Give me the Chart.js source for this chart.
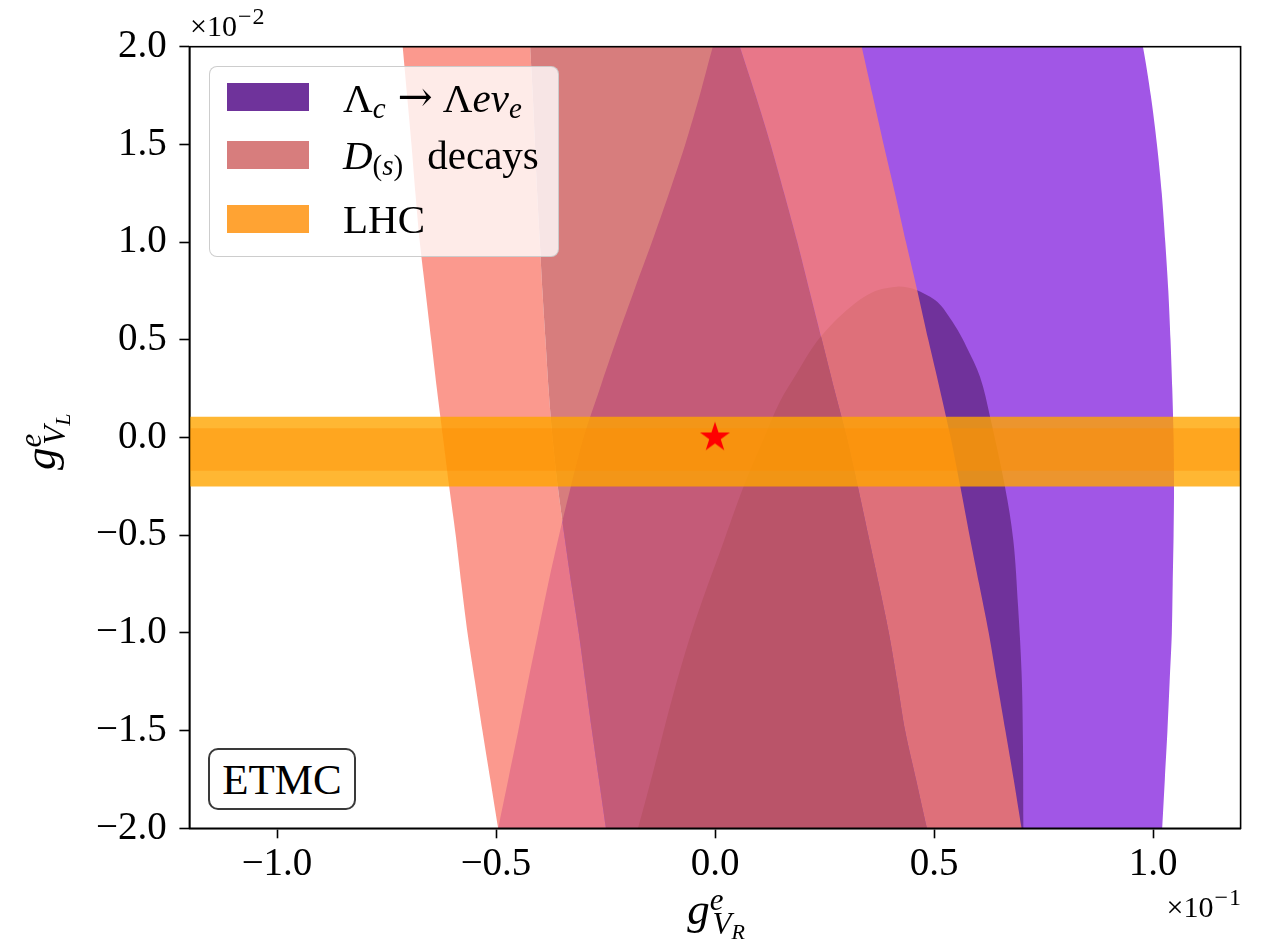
<!DOCTYPE html>
<html>
<head>
<meta charset="utf-8">
<script src="https://cdn.jsdelivr.net/npm/chart.js@4.4.1/dist/chart.umd.min.js"></script>
<style>
html,body{margin:0;padding:0;background:#fff;}
#wrap{position:relative;width:1261px;height:947px;overflow:hidden;font-family:"Liberation Serif","DejaVu Serif",serif;color:#000;}
#c{position:absolute;left:0;top:0;}
.ov{position:absolute;white-space:nowrap;line-height:1;}
.lab{font-size:45px;}
.lab .sp{font-size:31px;position:relative;top:-14px;}
.lab .sb{font-size:31px;position:relative;top:10px;margin-left:-11px;}
.lab .sb2{font-size:22px;position:relative;top:5px;}
.off{font-size:30px;}
.off .sp{font-size:24px;position:relative;top:-12px;margin-left:1px;letter-spacing:1px;}
#legend{position:absolute;left:209px;top:66px;width:350px;height:191px;box-sizing:border-box;border:1.5px solid rgba(200,200,200,0.9);border-radius:8px;background:rgba(255,255,255,0.8);}
.patch{position:absolute;left:227px;width:82px;height:28px;}
.lt{font-size:41px;left:343px;}
.lt .s{font-size:29px;position:relative;top:6px;}
.lt .arr{font-family:"DejaVu Serif",serif;font-size:42px;margin:0 10px 0 12px;position:relative;top:-1px;}
#etmc{position:absolute;left:208px;top:748px;width:148px;height:62px;box-sizing:border-box;border:2.5px solid #3a3a3a;border-radius:10px;background:#fff;display:flex;align-items:center;justify-content:center;font-size:43px;line-height:1;}
</style>
</head>
<body>
<div id="wrap">
<canvas id="c" width="1261" height="947"></canvas>
<div class="ov off" style="left:190px;top:11px;">×10<span class="sp">−2</span></div>
<div class="ov off" style="left:1242px;top:892px;transform:translateX(-100%);">×10<span class="sp">−1</span></div>
<div class="ov lab" style="left:716px;top:887px;transform:translateX(-50%);"><i>g</i><span class="sp"><i>e</i></span><span class="sb"><i>V</i><span class="sb2"><i>R</i></span></span></div>
<div class="ov lab" style="left:0;top:0;transform-origin:0 0;transform:translate(18px,470px) rotate(-90deg);"><i>g</i><span class="sp"><i>e</i></span><span class="sb"><i>V</i><span class="sb2"><i>L</i></span></span></div>
<div id="legend"></div>
<div class="patch" style="top:83px;background:rgb(111,51,155);"></div>
<div class="patch" style="top:141px;background:rgb(215,125,125);"></div>
<div class="patch" style="top:205px;background:rgb(255,163,51);"></div>
<div class="ov lt" style="top:77px;">Λ<span class="s"><i>c</i></span><span class="arr">→</span>Λ<i>eν</i><span class="s"><i>e</i></span></div>
<div class="ov lt" style="top:135px;"><i>D</i><span class="s">(<i>s</i>)</span><span style="margin-left:24px;">decays</span></div>
<div class="ov lt" style="top:199px;">LHC</div>
<div id="etmc">ETMC</div>
</div>
<script>
// ---- values (axis units: x in 1e-1, y in 1e-2) ----
const X_TICKS = [-1.0, -0.5, 0.0, 0.5, 1.0];
const Y_TICKS = [-2.0, -1.5, -1.0, -0.5, 0.0, 0.5, 1.0, 1.5, 2.0];
const X_RANGE = [-1.2, 1.2];
const Y_RANGE = [-2.0, 2.0];

// common y levels for the band edges
const Y_LEVELS = [2.1, 2.0, 1.75, 1.5, 1.25, 1.0, 0.75, 0.5, 0.25, 0.0, -0.25, -0.5, -0.75, -1.0, -1.25, -1.5, -1.75, -2.0, -2.1];
// D(s) band edges (x at each y level)
const EDGE_A  = [-0.717, -0.713, -0.703, -0.693, -0.684, -0.674, -0.661, -0.648, -0.635, -0.621, -0.607, -0.592, -0.579, -0.565, -0.548, -0.531, -0.513, -0.495, -0.487];
const EDGE_B2 = [-0.424, -0.422, -0.416, -0.411, -0.406, -0.400, -0.394, -0.387, -0.380, -0.371, -0.359, -0.344, -0.328, -0.311, -0.296, -0.281, -0.265, -0.249, -0.243];
const EDGE_LP = [0.043, 0.057, 0.093, 0.127, 0.158, 0.188, 0.216, 0.244, 0.272, 0.301, 0.326, 0.350, 0.374, 0.397, 0.416, 0.434, 0.459, 0.484, 0.496];
const EDGE_RP = [0.325, 0.335, 0.360, 0.385, 0.411, 0.436, 0.462, 0.487, 0.513, 0.538, 0.560, 0.581, 0.603, 0.625, 0.644, 0.663, 0.682, 0.700, 0.708];
// Lambda_c outer region edges
const EDGE_B1 = [0.010, -0.005, -0.035, -0.068, -0.105, -0.144, -0.185, -0.225, -0.263, -0.300, -0.329, -0.356, -0.381, -0.404, -0.427, -0.449, -0.472, -0.495, -0.504];
const EDGE_O  = [0.965, 0.977, 0.995, 1.009, 1.020, 1.028, 1.035, 1.040, 1.044, 1.047, 1.048, 1.047, 1.045, 1.043, 1.038, 1.033, 1.027, 1.021, 1.018];
// Lambda_c inner dome (left side bottom->apex, right side apex->bottom)
const DOME_LEFT_Y  = [-2.1, -1.992, -1.7, -1.378, -1.1, -0.866, -0.55, -0.252, -0.013, 0.183, 0.33, 0.465, 0.57, 0.652, 0.72, 0.755, 0.772];
const DOME_LEFT_X  = [-0.19, -0.175, -0.140, -0.103, -0.068, -0.034, 0.017, 0.065, 0.110, 0.148, 0.187, 0.224, 0.263, 0.301, 0.341, 0.373, 0.415];
const DOME_RIGHT_Y = [0.768, 0.755, 0.72, 0.68, 0.636, 0.55, 0.465, 0.311, 0.106, -0.252, -0.525, -0.866, -1.207, -1.548, -1.992, -2.1];
const DOME_RIGHT_X = [0.440, 0.460, 0.491, 0.514, 0.529, 0.554, 0.574, 0.605, 0.628, 0.662, 0.681, 0.692, 0.700, 0.703, 0.704, 0.704];
// LHC bands (y limits)
const LHC_OUTER = [-0.251, 0.106];
const LHC_INNER = [-0.170, 0.047];
const BAND_X_SPAN = [-1.3, 1.3];
// SM point
const SM_POINT = [0.0, 0.0];

// ---- helpers ----
function bandPoly(L, R) {
  const pts = [];
  for (let i = 0; i < Y_LEVELS.length; i++) pts.push({x: L[i], y: Y_LEVELS[i]});
  for (let i = Y_LEVELS.length - 1; i >= 0; i--) pts.push({x: R[i], y: Y_LEVELS[i]});
  pts.push({x: L[0], y: Y_LEVELS[0]});
  return pts;
}
function domePoly() {
  const pts = [];
  for (let i = 0; i < DOME_LEFT_Y.length; i++) pts.push({x: DOME_LEFT_X[i], y: DOME_LEFT_Y[i]});
  for (let i = 0; i < DOME_RIGHT_Y.length; i++) pts.push({x: DOME_RIGHT_X[i], y: DOME_RIGHT_Y[i]});
  pts.push({x: DOME_LEFT_X[0], y: DOME_LEFT_Y[0]});
  return pts;
}
function hBand(lim) {
  return [{x: BAND_X_SPAN[0], y: lim[0]}, {x: BAND_X_SPAN[1], y: lim[0]},
          {x: BAND_X_SPAN[1], y: lim[1]}, {x: BAND_X_SPAN[0], y: lim[1]},
          {x: BAND_X_SPAN[0], y: lim[0]}];
}
function shape(points, color, order, tension) {
  return {data: points, backgroundColor: color, borderColor: 'transparent', borderWidth: 0,
          pointRadius: 0, pointHoverRadius: 0, fill: 'shape', showLine: true,
          tension: tension || 0, capBezierPoints: false, order: order};
}
function starImage(r) {
  const s = Math.ceil(2 * r + 4);
  const c = document.createElement('canvas');
  c.width = s; c.height = s;
  const g = c.getContext('2d');
  g.fillStyle = '#ff0000';
  g.beginPath();
  for (let i = 0; i < 10; i++) {
    const rr = (i % 2) ? r * 0.381966 : r;
    const a = -Math.PI / 2 + i * Math.PI / 5;
    const px = s / 2 + rr * Math.cos(a), py = s / 2 + rr * Math.sin(a);
    if (i) g.lineTo(px, py); else g.moveTo(px, py);
  }
  g.closePath();
  g.fill();
  return c;
}
const fmt = v => (v < 0 ? '\u2212' : '') + Math.abs(v).toFixed(1);

const datasets = [
  {data: [{x: SM_POINT[0], y: SM_POINT[1]}], pointStyle: starImage(15.8), pointRadius: 16,
   showLine: false, fill: false, borderWidth: 0, order: 0},
  shape(hBand(LHC_INNER), 'rgba(255,140,0,0.4)', 1),
  shape(hBand(LHC_OUTER), 'rgba(255,165,0,0.8)', 2),
  shape(bandPoly(EDGE_LP, EDGE_RP), 'rgba(250,128,114,0.8)', 3, 0.3),
  shape(bandPoly(EDGE_B2, EDGE_LP), 'rgba(205,92,92,0.8)', 4, 0.3),
  shape(bandPoly(EDGE_A, EDGE_B2), 'rgba(250,128,114,0.8)', 5, 0.3),
  shape(domePoly(), 'rgb(112,50,155)', 6, 0.35),
  shape(bandPoly(EDGE_B1, EDGE_O), 'rgb(161,86,230)', 7, 0.3)
];

const framePlugin = {
  id: 'frame',
  afterDraw(ch) {
    const {ctx, chartArea: a} = ch;
    ctx.save();
    ctx.strokeStyle = '#000';
    ctx.lineWidth = 1.6;
    ctx.strokeRect(a.left, a.top, a.right - a.left, a.bottom - a.top);
    ctx.restore();
  }
};

const tickFont = {family: 'Liberation Serif', size: 39};
const gridOpts = {display: true, drawOnChartArea: false, drawTicks: true, tickLength: 10, tickWidth: 1.6, tickColor: '#000'};

new Chart(document.getElementById('c'), {
  type: 'line',
  data: {datasets},
  options: {
    responsive: false,
    animation: false,
    events: [],
    layout: {padding: {left: 0, top: 46.7, right: 20.4, bottom: 0}},
    plugins: {legend: {display: false}, tooltip: {enabled: false}},
    scales: {
      x: {
        type: 'linear', position: 'bottom', min: X_RANGE[0], max: X_RANGE[1],
        afterBuildTicks: s => { s.ticks = X_TICKS.map(v => ({value: v})); },
        afterFit: s => { s.height = 118.7; },
        ticks: {callback: v => fmt(v), font: tickFont, color: '#000', padding: 3, maxRotation: 0, autoSkip: false},
        grid: gridOpts,
        border: {display: true, color: '#000', width: 1.6}
      },
      y: {
        type: 'linear', position: 'left', min: Y_RANGE[0], max: Y_RANGE[1],
        afterBuildTicks: s => { s.ticks = Y_TICKS.map(v => ({value: v})); },
        afterFit: s => { s.width = 189.4; },
        ticks: {callback: v => fmt(v), font: tickFont, color: '#000', padding: 12.7, autoSkip: false},
        grid: gridOpts,
        border: {display: true, color: '#000', width: 1.6}
      }
    }
  },
  plugins: [framePlugin]
});
</script>
</body>
</html>
